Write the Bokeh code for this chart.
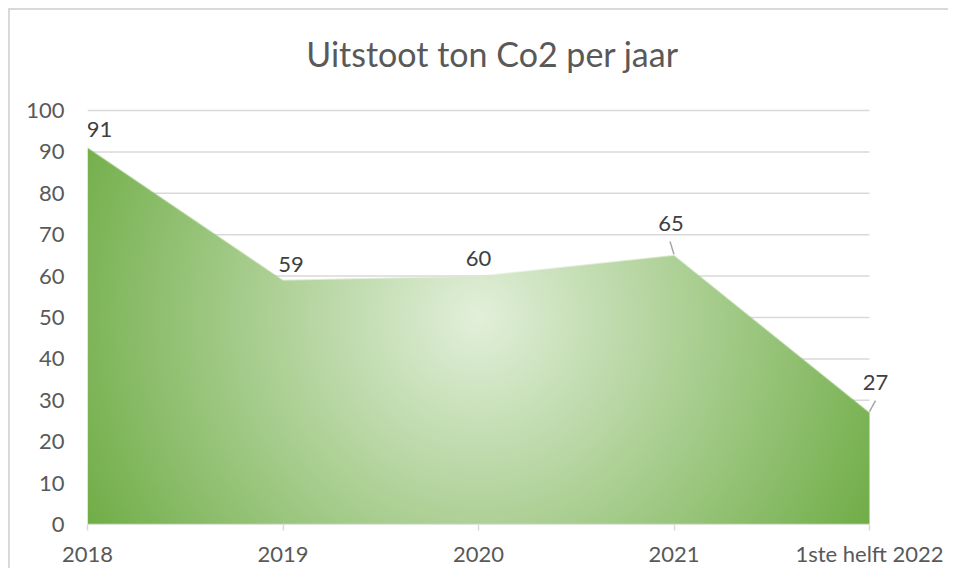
import numpy as np
from bokeh.plotting import figure
from bokeh.models import Label, FixedTicker, Range1d, ColumnDataSource
from bokeh.core.properties import value
from bokeh.embed import file_html
from bokeh.resources import INLINE

# ---- data ----
categories = ["2018", "2019", "2020", "2021", "1ste helft 2022"]
values = [91, 59, 60, 65, 27]
y_ticks = [0, 10, 20, 30, 40, 50, 60, 70, 80, 90, 100]
title_text = "Uitstoot ton Co2 per jaar"

# ---- layout ----
W, H = 940, 560
ML, MR, MT, MB = 77, 5, 0, 46
PW, PH = 782, 414              # size of the value area (0..n-1, 0..100) in px
FW = W - ML - MR
FH = H - MT - MB
FONT = "Lato"
n = len(categories)
xs = np.arange(n)
x_end = (n - 1) * FW / PW
y_end = 100.0 * FH / PH

p = figure(width=W, height=H, x_range=Range1d(0, x_end), y_range=Range1d(0, y_end),
           output_backend="svg", toolbar_location=None,
           min_border_left=ML, min_border_right=MR, min_border_top=MT, min_border_bottom=MB)
p.styles = {"margin-left": "8px", "margin-top": "8px",
            "border-left": "2px solid #d9d9d9", "border-top": "2px solid #d9d9d9"}
p.outline_line_color = None
p.background_fill_color = "white"
p.border_fill_color = "white"
p.xgrid.grid_line_color = None
p.ygrid.grid_line_color = None

# gridlines (drawn over the value area only)
gy = [v for v in y_ticks if v > 0]
p.segment(x0=[0] * len(gy), y0=gy, x1=[n - 1] * len(gy), y1=gy,
          line_color="#d9d9d9", line_width=1.5)

# radial gradient fill of the area (image masked by the data)
px = np.arange(PW) + 0.5
py = np.arange(PH) + 0.5
PX, PY = np.meshgrid(px, py)
cx, cy = PW / 2.0, PH / 2.0
r = np.hypot(cx, cy)
t = np.clip(np.hypot(PX - cx, PY - cy) / r, 0, 1)
light = np.array([226, 239, 218], dtype=float)
dark = np.array([112, 173, 71], dtype=float)
xdata = px / PW * (n - 1)
top_px = np.interp(xdata, xs, values) / 100.0 * PH
alpha = np.clip(top_px[None, :] - PY + 0.5, 0, 1)
img = np.zeros((PH, PW), dtype=np.uint32)
view = img.view(dtype=np.uint8).reshape((PH, PW, 4))
for k in range(3):
    view[:, :, k] = np.round(light[k] + (dark[k] - light[k]) * t).astype(np.uint8)
view[:, :, 3] = np.round(alpha * 255).astype(np.uint8)
p.image_rgba(image=[img], x=0, y=0, dw=n - 1, dh=100)

# x axis line (only under the categories)
p.segment(x0=[0], y0=[0], x1=[n - 1], y1=[0], line_color="#d9d9d9", line_width=1.5)

# axes
xa = p.xaxis[0]
xa.ticker = FixedTicker(ticks=list(range(n)))
xa.major_label_overrides = {i: c for i, c in enumerate(categories)}
xa.axis_line_color = None
xa.major_tick_line_color = "#d9d9d9"
xa.major_tick_line_width = 1.5
xa.major_tick_in = 0
xa.major_tick_out = 6
xa.minor_tick_line_color = None
xa.major_label_text_font = FONT
xa.major_label_text_font_size = "22px"
xa.major_label_text_color = "#595959"
xa.major_label_standoff = 9

ya = p.yaxis[0]
ya.ticker = FixedTicker(ticks=y_ticks)
ya.axis_line_color = None
ya.major_tick_line_color = None
ya.minor_tick_line_color = None
ya.major_tick_in = 0
ya.major_tick_out = 0
ya.major_label_text_font = FONT
ya.major_label_text_font_size = "22px"
ya.major_label_text_color = "#595959"
ya.major_label_standoff = 23

# data labels
dxp = (n - 1) / PW   # data units per px (x)
dyp = 100.0 / PH     # data units per px (y)
lab_dx = [12, 8, 0, -3, 6]
lab_dy = [-18, -16, -18, -32, -30]
src = ColumnDataSource(dict(x=list(xs), y=values, text=[str(v) for v in values],
                            xo=lab_dx, yo=lab_dy))
p.text(x="x", y="y", text="text", x_offset="xo", y_offset="yo", source=src,
       text_font=value(FONT), text_font_size="22px", text_color="#404040",
       text_align="center", text_baseline="alphabetic")

# leader lines for 2021 and 1ste helft 2022
lead_idx = [3, 4]
lx0 = [xs[i] + d * dxp for i, d in zip(lead_idx, [-4, 6])]
ly0 = [values[i] + d * dyp for i, d in zip(lead_idx, [14, 12])]
lx1 = [xs[i] for i in lead_idx]
ly1 = [values[i] + 1 * dyp for i in lead_idx]
p.segment(x0=lx0, y0=ly0, x1=lx1, y1=ly1, line_color="#a6a6a6", line_width=1.5)

# title
p.add_layout(Label(x=(n - 1) / 2.0, y=100, x_offset=14, y_offset=57, text=title_text,
                   text_font=FONT, text_font_size="34px", text_color="#595959",
                   text_align="center", text_baseline="alphabetic"))

open("out.html", "w").write(file_html(p, INLINE))
